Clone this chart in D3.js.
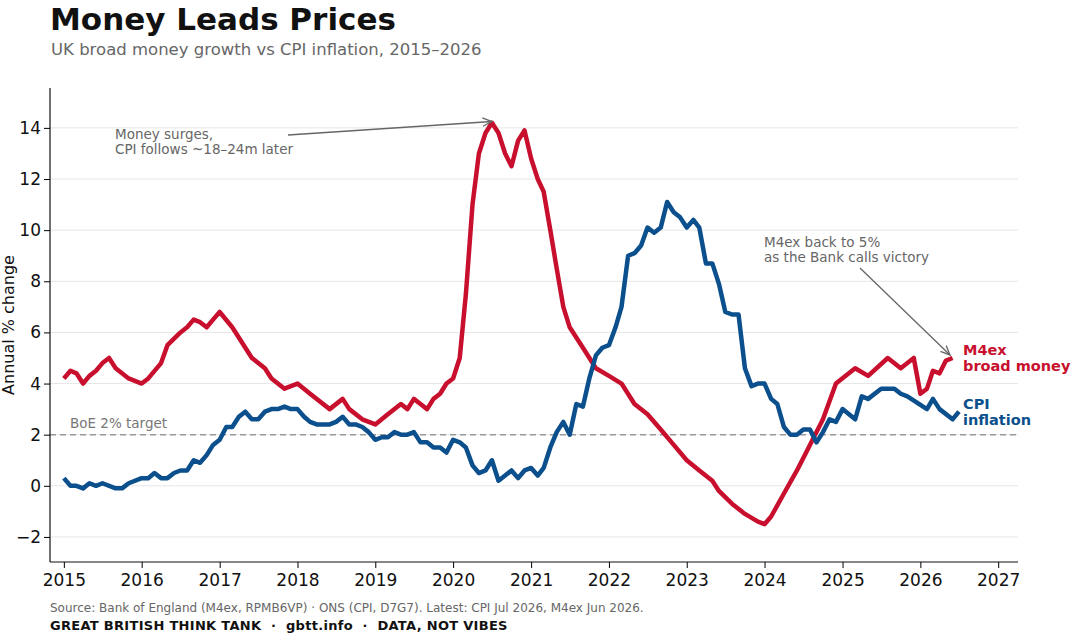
<!DOCTYPE html>
<html><head><meta charset="utf-8">
<script src="https://cdn.jsdelivr.net/npm/d3@7"></script>
<style>body{margin:0;background:#fff;font-family:"DejaVu Sans",sans-serif}</style>
</head><body><svg id="c" width="1074" height="640"></svg>
<script>
// months since Jan 2015
const m4exMonths=[0,1,2,3,4,5,6,7,8,10,12,13,15,16,18,19,20,21,22,23,24,26,29,31,32,34,36,38,41,43,44,46,48,50,52,53,54,55,56,57,58,59,60,61,62,63,64,65,66,67,68,69,70,71,72,73,74,75,76,77,78,80,82,84,86,88,90,92,94,96,98,100,101,103,105,107,108,109,111,113,115,117,119,122,124,127,129,131,132,133,134,135,136,137];
const m4exValues=[4.2,4.5,4.4,4.0,4.3,4.5,4.8,5.0,4.6,4.2,4.0,4.2,4.8,5.5,6.0,6.2,6.5,6.4,6.2,6.5,6.8,6.2,5.0,4.6,4.2,3.8,4.0,3.6,3.0,3.4,3.0,2.6,2.4,2.8,3.2,3.0,3.4,3.2,3.0,3.4,3.6,4.0,4.2,5.0,7.5,11.0,13.0,13.8,14.2,13.8,13.0,12.5,13.5,13.9,12.8,12.0,11.5,10.0,8.5,7.0,6.2,5.4,4.6,4.3,4.0,3.2,2.8,2.2,1.6,1.0,0.6,0.2,-0.2,-0.7,-1.1,-1.4,-1.5,-1.2,-0.3,0.6,1.6,2.6,4.0,4.6,4.3,5.0,4.6,5.0,3.6,3.8,4.5,4.4,4.9,5.0];
const cpiMonths=[0,1,2,3,4,5,6,8,9,10,12,13,14,15,16,17,18,19,20,21,22,23,24,25,26,27,28,29,30,31,32,33,34,35,36,37,38,39,41,42,43,44,45,46,47,48,49,50,51,52,53,54,55,56,57,58,59,60,61,62,63,64,65,66,67,68,69,70,71,72,73,74,75,76,77,78,79,80,81,82,83,84,85,86,87,88,89,90,91,92,93,94,95,96,97,98,99,100,101,102,103,104,105,106,107,108,109,110,111,112,113,114,115,116,117,118,119,120,122,123,124,126,128,129,130,133,134,135,137,138];
const cpiValues=[0.3,0,0,-0.1,0.1,0,0.1,-0.1,-0.1,0.1,0.3,0.3,0.5,0.3,0.3,0.5,0.6,0.6,1.0,0.9,1.2,1.6,1.8,2.3,2.3,2.7,2.9,2.6,2.6,2.9,3.0,3.0,3.1,3.0,3.0,2.7,2.5,2.4,2.4,2.5,2.7,2.4,2.4,2.3,2.1,1.8,1.9,1.9,2.1,2.0,2.0,2.1,1.7,1.7,1.5,1.5,1.3,1.8,1.7,1.5,0.8,0.5,0.6,1.0,0.2,0.4,0.6,0.3,0.6,0.7,0.4,0.7,1.5,2.1,2.5,2.0,3.2,3.1,4.2,5.1,5.4,5.5,6.2,7.0,9.0,9.1,9.4,10.1,9.9,10.1,11.1,10.7,10.5,10.1,10.4,10.1,8.7,8.7,7.9,6.8,6.7,6.7,4.6,3.9,4.0,4.0,3.4,3.2,2.3,2.0,2.0,2.2,2.2,1.7,2.1,2.6,2.5,3.0,2.6,3.5,3.4,3.8,3.8,3.6,3.5,3.0,3.4,3.0,2.6,2.9];
const yTicks=[-2,0,2,4,6,8,10,12,14];
const xTickYears=[2015,2016,2017,2018,2019,2020,2021,2022,2023,2024,2025,2026,2027];
const RED="#c8102e",BLUE="#0b4f8c";
const svg=d3.select("#c");
const L=50,R=1018,T=88,B=562;
const x=d3.scaleTime().domain([new Date(2014,9,28),new Date(2027,3,4)]).range([L,R]);
const y=d3.scaleLinear().domain([-2.98,15.56]).range([B,T]);
const dt=m=>new Date(2015,m,1);
svg.append("g").selectAll("line").data(yTicks).join("line")
 .attr("x1",L).attr("x2",R).attr("y1",d=>y(d)).attr("y2",d=>y(d)).attr("stroke","#e6e6e6");
svg.append("line").attr("x1",L).attr("x2",R).attr("y1",y(2)).attr("y2",y(2)).attr("stroke","#999").attr("stroke-width",1.5).attr("stroke-dasharray","6,4");
svg.append("text").attr("x",70).attr("y",y(2)-7).attr("fill","#777").attr("font-size",13.5).text("BoE 2% target");
const ya=svg.append("g").attr("transform",`translate(${L},0)`).call(d3.axisLeft(y).tickValues(yTicks).tickFormat(d=>d<0?"−"+Math.abs(d):d).tickSizeOuter(0));
const xa=svg.append("g").attr("transform",`translate(0,${B})`).call(d3.axisBottom(x).tickValues(xTickYears.map(v=>new Date(v,0,1))).tickFormat(d3.timeFormat("%Y")).tickSizeOuter(0));
[ya,xa].forEach(a=>{a.selectAll("text").attr("font-size",17).attr("fill","#111").attr("font-family","DejaVu Sans");a.select(".domain").attr("stroke","#111").attr("stroke-width",1.2);});
xa.selectAll("text").attr("dy","0.9em");
ya.select(".domain").attr("d",`M0,${T}V${B}`);
xa.select(".domain").attr("d",`M${L},0H${R}`);
const line=d3.line().x(d=>x(dt(d[0]))).y(d=>y(d[1]));
svg.append("path").datum(m4exMonths.map((m,i)=>[m,m4exValues[i]])).attr("d",line).attr("fill","none").attr("stroke",RED).attr("stroke-width",4.5).attr("stroke-linejoin","round");
svg.append("path").datum(cpiMonths.map((m,i)=>[m,cpiValues[i]])).attr("d",line).attr("fill","none").attr("stroke",BLUE).attr("stroke-width",4.5).attr("stroke-linejoin","round");
// end labels
const lab=(t,yy,c)=>svg.append("text").attr("x",963).attr("y",yy).attr("fill",c).attr("font-size",14.5).attr("font-weight","bold").text(t);
lab("M4ex",355,RED);lab("broad money",371,RED);lab("CPI",409,BLUE);lab("inflation",425,BLUE);
// annotations
svg.append("defs").append("marker").attr("id","ar").attr("viewBox","0 0 10 10").attr("refX",9).attr("refY",5).attr("markerWidth",8).attr("markerHeight",8).attr("orient","auto")
 .append("path").attr("d","M0,1L9,5L0,9").attr("fill","none").attr("stroke","#666").attr("stroke-width",1.3);
const ann=(lines,tx,ty,x1,y1,x2,y2)=>{
 const t=svg.append("text").attr("fill","#666").attr("font-size",13.5);
 lines.forEach((s,i)=>t.append("tspan").attr("x",tx).attr("y",ty+i*15).text(s));
 svg.append("line").attr("x1",x1).attr("y1",y1).attr("x2",x2).attr("y2",y2).attr("stroke","#666").attr("stroke-width",1.3).attr("marker-end","url(#ar)");
};
ann(["Money surges,","CPI follows ~18–24m later"],115,139,288,135,x(dt(66)),y(14.25));
ann(["M4ex back to 5%","as the Bank calls victory"],764,247,860,268,950,355);
svg.append("text").attr("transform","translate(14,325) rotate(-90)").attr("text-anchor","middle").attr("font-size",16).attr("fill","#111").text("Annual % change");
svg.append("text").attr("x",50).attr("y",30).attr("font-size",31).attr("font-weight","bold").attr("fill","#111").text("Money Leads Prices");
svg.append("text").attr("x",51).attr("y",55).attr("font-size",16.5).attr("fill","#666").text("UK broad money growth vs CPI inflation, 2015–2026");
svg.append("text").attr("x",50).attr("y",612).attr("font-size",12).attr("fill","#666").text("Source: Bank of England (M4ex, RPMB6VP) · ONS (CPI, D7G7). Latest: CPI Jul 2026, M4ex Jun 2026.");
svg.append("text").attr("x",50).attr("y",630).attr("font-size",13).attr("font-weight","bold").attr("fill","#111").attr("letter-spacing",0.3).attr("xml:space","preserve").text("GREAT BRITISH THINK TANK  ·  gbtt.info  ·  DATA, NOT VIBES");
</script></body></html>
